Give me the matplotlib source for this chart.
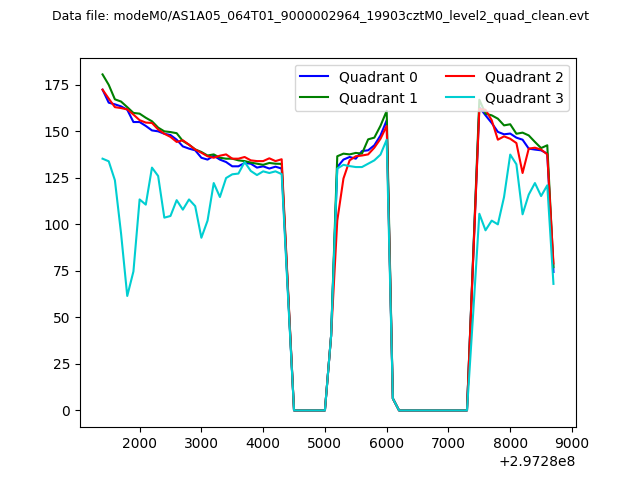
import numpy as np
import matplotlib
matplotlib.use("Agg")
import matplotlib.pyplot as plt

# Tiempos (s) relativos a 2.9728e8, bins de 100 s
t0 = 2.9728e8
t_rel = np.arange(1400, 8800, 100)

zeros_a = [0, 0, 0, 0, 0, 0]                   # 4500..5000
zeros_b = [0, 0, 0, 0, 0, 0, 0, 0, 0, 0, 0, 0]  # 6200..7300

q0 = ([172.4, 165.4, 164.5, 163.4, 161.6, 155.0, 155.0, 152.9, 150.5, 150.0,
       148.7, 148.0, 145.5, 141.9, 140.7, 139.8, 135.8, 134.8, 136.9, 134.8,
       133.5, 131.2, 131.2, 133.0, 132.6, 130.5, 131.2, 130.0, 131.0, 130.0,
       65.0] + zeros_a +
      [40.0, 130.8, 134.8, 136.2, 135.3, 139.4, 139.8, 142.5, 147.8, 155.9,
       6.4] + zeros_b +
      [82.0, 163.0, 158.6, 154.5, 149.7, 148.4, 148.8, 146.6, 145.5, 140.7,
       140.2, 139.8, 138.0, 74.4])

q1 = ([180.6, 175.0, 167.2, 166.0, 163.0, 159.9, 159.5, 157.3, 155.4, 152.0,
       150.0, 149.6, 149.0, 144.8, 142.8, 140.3, 138.9, 137.0, 137.6, 135.8,
       135.3, 135.3, 134.4, 134.0, 133.2, 132.6, 132.0, 133.0, 132.6, 132.5,
       66.0] + zeros_a +
      [40.0, 136.6, 138.0, 137.6, 138.4, 138.0, 145.7, 146.6, 153.0, 161.0,
       6.4] + zeros_b +
      [83.0, 167.0, 159.5, 158.6, 156.8, 153.2, 153.8, 148.7, 149.3, 147.8,
       144.3, 141.0, 142.5, 77.0])

q2 = ([172.4, 167.6, 163.0, 162.5, 161.8, 159.0, 156.0, 154.7, 154.5, 151.0,
       148.7, 147.0, 144.3, 145.2, 142.8, 140.2, 138.5, 136.6, 135.8, 136.9,
       137.6, 135.3, 135.3, 136.2, 134.4, 134.0, 134.0, 135.5, 134.0, 135.0,
       67.0] + zeros_a +
      [40.0, 102.0, 124.6, 134.4, 136.6, 137.0, 137.6, 141.2, 146.0, 152.9,
       6.4] + zeros_b +
      [81.0, 162.0, 161.6, 156.0, 145.5, 147.3, 146.0, 143.7, 127.6, 140.7,
       141.2, 140.2, 137.6, 79.0])

q3 = ([135.3, 133.9, 123.7, 95.0, 61.5, 74.7, 113.4, 110.6, 130.5, 126.0,
       103.6, 104.5, 113.0, 107.9, 113.4, 109.8, 92.8, 102.0, 122.2, 114.7,
       124.9, 126.9, 127.3, 133.5, 128.7, 126.5, 128.5, 127.6, 128.5, 127.0,
       63.0] + zeros_a +
      [40.0, 130.0, 132.0, 131.3, 130.8, 130.8, 132.6, 134.4, 137.5, 145.5,
       6.4] + zeros_b +
      [52.0, 105.7, 96.8, 102.0, 100.0, 114.7, 137.5, 132.3, 105.4, 116.0,
       122.2, 115.2, 121.0, 68.0])

quads = [q0, q1, q2, q3]
colores = ['b', 'g', 'r', 'darkturquoise']

t = t0 + t_rel

fig = plt.figure(figsize=(6.4, 4.8), dpi=100)
ax = fig.add_subplot(111)
for i, (q, col) in enumerate(zip(quads, colores)):
    ax.plot(t, q, color=col, label=f'Quadrant {i}')

ax.legend(loc='upper right', ncol=2)
fig.suptitle('Data file: modeM0/AS1A05_064T01_9000002964_19903cztM0_level2_quad_clean.evt',
             fontsize=9)

plt.savefig('out.png')
